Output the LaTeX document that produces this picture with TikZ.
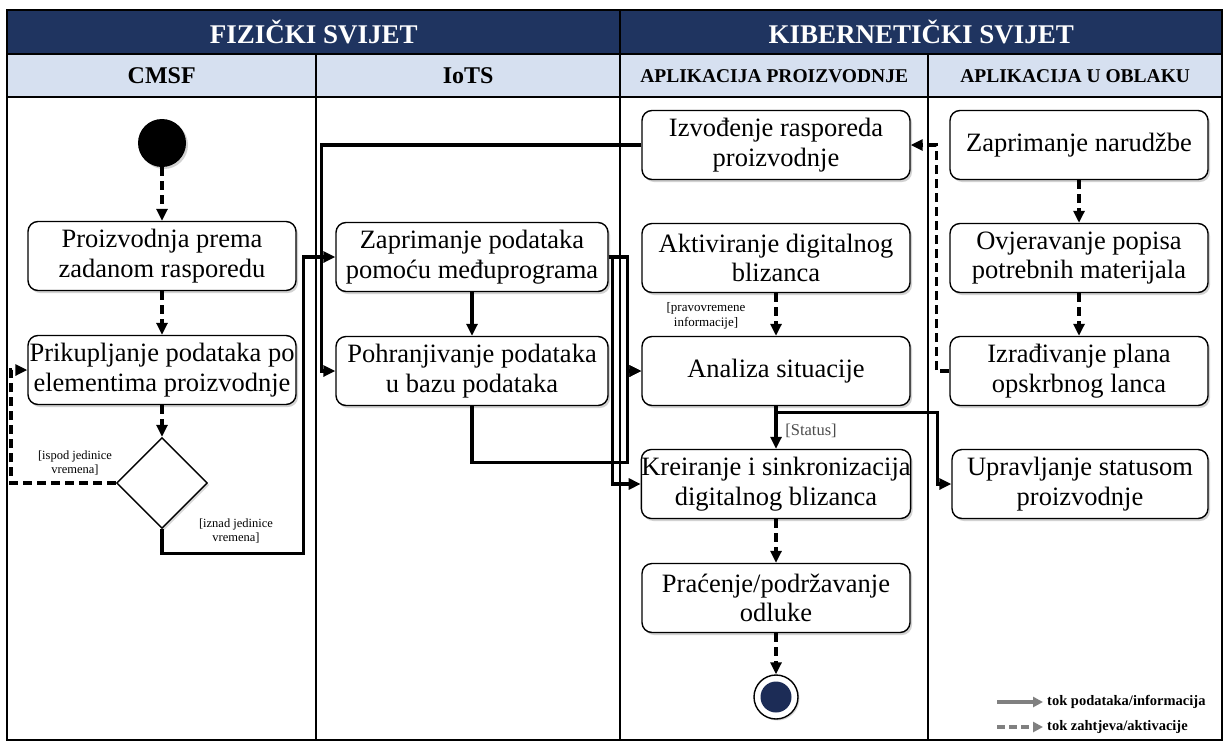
\documentclass[tikz,border=0pt]{standalone}
\usepackage{fontspec}
\setmainfont{Liberation Serif}
\usetikzlibrary{arrows.meta,shapes.geometric,shadows,calc}
\definecolor{navy}{RGB}{31,52,96}
\definecolor{lightblue}{RGB}{214,224,240}
\definecolor{endnavy}{RGB}{28,44,86}
\definecolor{leggray}{RGB}{128,128,128}
\begin{document}
\begin{tikzpicture}[x=1pt,y=-1pt,
  act/.style={draw=black,line width=1.4pt,rounded corners=10pt,fill=white,
    minimum width=268pt,minimum height=69pt,inner sep=0pt,align=center,
    font=\fontsize{26.5}{29.5}\selectfont,
    drop shadow={shadow xshift=2pt,shadow yshift=-2.5pt,fill=black!35}},
  hdrdark/.style={fill=navy,text=white,anchor=north west,minimum height=43pt,inner sep=0pt,
    font=\bfseries\fontsize{27}{30}\selectfont},
  hdrlight/.style={fill=lightblue,text=black,anchor=north west,minimum height=43pt,inner sep=0pt},
  solidarr/.style={line width=3.4pt,-{Triangle[length=12pt,width=11pt]}},
  dasharr/.style={line width=3.4pt,dash pattern=on 9pt off 5pt,-{Triangle[length=12pt,width=11pt]}},
  lbl/.style={align=center,inner sep=0pt,font=\fontsize{12.5}{14}\selectfont},
  frame/.style={line width=2.2pt,draw=black},
  legtxt/.style={anchor=west,inner sep=0pt,font=\bfseries\fontsize{14.5}{16}\selectfont}
]
\useasboundingbox (0,0) rectangle (1225,742);
\fill[white] (0,0) rectangle (1225,742);

% headers
\node[hdrdark,minimum width=613pt] (fiz) at (7,10) {FIZIČKI SVIJET};
\node[hdrdark,minimum width=602pt] (kib) at (620,10) {KIBERNETIČKI SVIJET};
\node[hdrlight,minimum width=309pt,font=\bfseries\fontsize{24}{28}\selectfont] (cmsf) at (7,54) {CMSF};
\node[hdrlight,minimum width=304pt,font=\bfseries\fontsize{24}{28}\selectfont] (iots) at (316,54) {IoTS};
\node[hdrlight,minimum width=308pt,font=\bfseries\fontsize{19.5}{23}\selectfont] (appp) at (620,54) {APLIKACIJA PROIZVODNJE};
\node[hdrlight,minimum width=294pt,font=\bfseries\fontsize{19.5}{23}\selectfont] (appo) at (928,54) {APLIKACIJA U OBLAKU};

% frame
\draw[frame] (7,10) rectangle (1222,740);
\draw[frame] (7,54) -- (1222,54);
\draw[frame] (7,97) -- (1222,97);
\draw[frame] (620,10) -- (620,740);
\draw[frame] (316,54) -- (316,740);
\draw[frame] (928,54) -- (928,740);

% CMSF lane
\node[circle,fill=black,minimum size=48pt,inner sep=0pt,
  drop shadow={shadow xshift=2pt,shadow yshift=-2pt,fill=black!35}] (start) at (162,143) {};
\node[act] (proiz) at (162,256) {Proizvodnja prema\\zadanom rasporedu};
\node[act] (prik) at (162,370) {Prikupljanje podataka po\\elementima proizvodnje};
\node[diamond,draw=black,line width=1.4pt,fill=white,minimum width=91pt,minimum height=91pt,
  inner sep=0pt,drop shadow={shadow xshift=2pt,shadow yshift=-2pt,fill=black!30}] (dia) at (162,483) {};
\node[lbl] (lisp) at (75,463) {[ispod jedinice\\vremena]};
\node[lbl] (liz) at (236,531) {[iznad jedinice\\vremena]};

% IoTS lane
\node[act,minimum width=272pt] (zapr) at (472,257) {Zaprimanje podataka\\pomoću međuprograma};
\node[act,minimum width=272pt] (poh) at (472,371) {Pohranjivanje podataka\\u bazu podataka};

% Aplikacija proizvodnje lane
\node[act] (izv) at (776,145) {Izvođenje rasporeda\\proizvodnje};
\node[act] (akt) at (776,258) {Aktiviranje digitalnog\\blizanca};
\node[act] (anal) at (776,371) {Analiza situacije};
\node[act] (kreir) at (776,484) {Kreiranje i sinkronizacija\\digitalnog blizanca};
\node[act] (prac) at (776,598) {Praćenje/podržavanje\\odluke};
\node[circle,draw=black,line width=1.4pt,fill=white,minimum size=44pt,inner sep=0pt,
  drop shadow={shadow xshift=1.5pt,shadow yshift=-1.5pt,fill=black!30}] (end) at (776,697) {};
\node[circle,fill=endnavy,minimum size=31pt,inner sep=0pt] (endin) at (end) {};
\node[lbl,font=\fontsize{13}{14.5}\selectfont] (lprav) at (706,316) {[pravovremene\\informacije]};
\node[inner sep=0pt,text=black!70,font=\fontsize{16.5}{18}\selectfont] (lstat) at (811,431) {[Status]};

% Aplikacija u oblaku lane
\node[act,minimum width=258pt] (zn) at (1079,145) {Zaprimanje narudžbe};
\node[act,minimum width=258pt] (ovj) at (1079,258) {Ovjeravanje popisa\\potrebnih materijala};
\node[act,minimum width=258pt] (izr) at (1079,371) {Izrađivanje plana\\opskrbnog lanca};
\node[act,minimum width=256pt] (upr) at (1080,484) {Upravljanje statusom\\proizvodnje};

% dashed (request/activation) flows
\draw[dasharr] (start) -- (proiz);
\draw[dasharr] (proiz) -- (prik);
\draw[dasharr] (prik) -- (dia);
\draw[dasharr] (dia.west) -- ++(-105,0) |- (prik.west);
\draw[dasharr] (akt) -- (anal);
\draw[dasharr] (kreir) -- (prac);
\draw[dasharr] (prac) -- (end);
\draw[dasharr] (zn) -- (ovj);
\draw[dasharr] (ovj) -- (izr);
\draw[dasharr] (izr.west) -- ++(-13,0) |- (izv.east);

% solid (data) flows
\draw[solidarr] (dia.south) -- ++(0,24) -| ([xshift=-32pt]zapr.west) -- (zapr.west);
\draw[solidarr] (izv.west) -| ([xshift=-14pt]poh.west) -- (poh.west);
\draw[solidarr] (zapr) -- (poh);
\draw[solidarr] (zapr.east) -- ++(4,0) |- (kreir.west);
\draw[solidarr] (zapr.east) -| ([xshift=-14pt]anal.west) -- (anal.west);
\draw[solidarr] (poh.south) -- ++(0,56) -| ([xshift=-14pt]anal.west) -- (anal.west);
\draw[solidarr] (anal) -- (kreir);
\draw[solidarr] (anal.south) -- ++(0,6) -| ([xshift=-14pt]upr.west) -- (upr.west);

% legend
\coordinate (la1) at (997,702);
\coordinate (la2) at (1043,702);
\coordinate (lb1) at (997,727);
\coordinate (lb2) at (1043,727);
\draw[line width=3.2pt,draw=leggray,-{Triangle[length=10pt,width=10pt]}] (la1) -- (la2);
\draw[line width=3.2pt,draw=leggray,dash pattern=on 8pt off 4pt,-{Triangle[length=10pt,width=10pt]}] (lb1) -- (lb2);
\node[legtxt] (leg1) at (1047,702) {tok podataka/informacija};
\node[legtxt] (leg2) at (1047,727) {tok zahtjeva/aktivacije};
\end{tikzpicture}
\end{document}
